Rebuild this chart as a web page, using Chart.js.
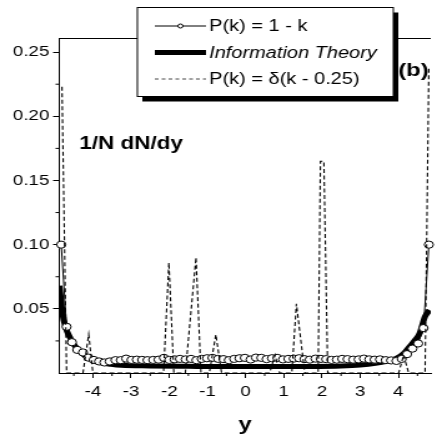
<!DOCTYPE html>
<html>
<head>
<meta charset="utf-8">
<script src="https://cdn.jsdelivr.net/npm/chart.js@4/dist/chart.umd.min.js"></script>
<style>
  html, body { margin: 0; padding: 0; background: #fff; }
  #chart { width: 437px; height: 440px; }
</style>
</head>
<body>
<canvas id="chart" width="350" height="440" style="width:437px;height:440px"></canvas>
<script>
// rapidity grid of the P(k) = 1 - k points
const circleX = [-4.83, -4.69, -4.55, -4.41, -4.26, -4.12, -3.98, -3.84, -3.70, -3.56,
  -3.41, -3.27, -3.13, -2.99, -2.85, -2.71, -2.57, -2.42, -2.28, -2.14,
  -2.00, -1.86, -1.72, -1.57, -1.43, -1.29, -1.15, -1.01, -0.87, -0.72,
  -0.58, -0.44, -0.30, -0.16, -0.02, 0.13, 0.27, 0.41, 0.55, 0.69,
  0.83, 0.98, 1.12, 1.26, 1.40, 1.54, 1.68, 1.83, 1.97, 2.11,
  2.25, 2.39, 2.53, 2.67, 2.82, 2.96, 3.10, 3.24, 3.38, 3.52,
  3.67, 3.81, 3.95, 4.09, 4.23, 4.37, 4.52, 4.66, 4.80];
const circleY = [0.100, 0.036, 0.024, 0.018, 0.016, 0.012, 0.0102, 0.0090, 0.0082, 0.0090,
  0.0100, 0.0100, 0.0112, 0.0102, 0.0104, 0.0102, 0.0100, 0.0102, 0.0104, 0.0118,
  0.0102, 0.0106, 0.0110, 0.0106, 0.0110, 0.0100, 0.0110, 0.0115, 0.0118, 0.0110,
  0.0108, 0.0100, 0.0110, 0.0115, 0.0118, 0.0105, 0.0120, 0.0118, 0.0108, 0.0115,
  0.0118, 0.0106, 0.0110, 0.0112, 0.0115, 0.0108, 0.0104, 0.0112, 0.0110, 0.0108,
  0.0102, 0.0104, 0.0110, 0.0108, 0.0104, 0.0106, 0.0112, 0.0106, 0.0104, 0.0106,
  0.0100, 0.0098, 0.0094, 0.0110, 0.0147, 0.0190, 0.0230, 0.0350, 0.100];

// information theory curve
const infoX = [-4.88, -4.84, -4.80, -4.72, -4.59, -4.46, -4.29, -4.12, -3.86, -3.52,
  -3.26, -2.5, -1.5, -0.5, 0.5, 1.5, 2.5, 3.0, 3.4, 3.7,
  3.96, 4.15, 4.30, 4.45, 4.56, 4.70, 4.82];
const infoY = [0.068, 0.058, 0.047, 0.036, 0.027, 0.0207, 0.0155, 0.0116, 0.0085, 0.0068,
  0.0060, 0.0055, 0.0052, 0.0050, 0.0050, 0.0051, 0.0055, 0.0062, 0.0075, 0.0092,
  0.0116, 0.0155, 0.0207, 0.026, 0.031, 0.044, 0.049];

// delta function P(k) = d(k - 0.25)
const deltaX = [-4.81, -4.69, -4.26, -4.11, -4.00, -2.15, -2.01, -1.88, -1.58, -1.30,
  -1.17, -0.95, -0.78, -0.63, 0.63, 0.77, 0.89, 1.21, 1.33, 1.55,
  1.90, 1.96, 2.05, 2.15, 4.01, 4.14, 4.27, 4.70, 4.80];
const deltaY = [0.223, 0, 0, 0.030, 0, 0, 0.086, 0, 0, 0.090,
  0, 0, 0.030, 0, 0, 0.014, 0, 0, 0.054, 0,
  0, 0.165, 0.165, 0, 0, 0.014, 0, 0, 0.239];

const seriesLabels = ['P(k) = 1 - k', 'Information Theory', 'P(k) = \u03b4(k - 0.25)'];

// axis ticks
const xMinor = [-4.5, -3.5, -2.5, -1.5, -0.5, 0.5, 1.5, 2.5, 3.5, 4.5];
const yMinor = [0.025, 0.075, 0.125, 0.175, 0.225];

const toPoints = (xs, ys) => xs.map((x, i) => ({x: x, y: ys[i]}));
const FONT = '"Liberation Sans", Arial, Helvetica, sans-serif';

const frame = {
  id: 'frame',
  afterDraw(chart) {
    const {ctx, chartArea, scales: {x, y}} = chart;
    ctx.save();
    ctx.strokeStyle = '#000';
    ctx.lineWidth = 1;
    ctx.beginPath();
    xMinor.forEach(v => {
      const px = x.getPixelForValue(v);
      ctx.moveTo(px, chartArea.bottom);
      ctx.lineTo(px, chartArea.bottom + 3);
    });
    yMinor.forEach(v => {
      const py = y.getPixelForValue(v);
      ctx.moveTo(chartArea.left, py);
      ctx.lineTo(chartArea.left - 3, py);
    });
    ctx.moveTo(chartArea.left, chartArea.top + 0.5);
    ctx.lineTo(chartArea.right, chartArea.top + 0.5);
    ctx.stroke();
    ctx.restore();
  }
};

const legendBox = {
  id: 'legendBox',
  afterDraw(chart) {
    const ctx = chart.ctx;
    const ds = chart.data.datasets;
    const bx = 110, by = 7.5, bw = 205, bh = 89;
    ctx.save();
    ctx.fillStyle = '#000';
    ctx.fillRect(bx + 4, by + 5, bw, bh);
    ctx.fillStyle = '#fff';
    ctx.fillRect(bx, by, bw, bh);
    ctx.strokeStyle = '#000';
    ctx.lineWidth = 1;
    ctx.strokeRect(bx, by, bw, bh);

    const rowY = [26, 52.5, 79];
    const x0 = 124, x1 = 165;
    // row 1: thin line with small open circle
    ctx.beginPath();
    ctx.moveTo(x0, rowY[0]);
    ctx.lineTo(x1, rowY[0]);
    ctx.stroke();
    ctx.beginPath();
    ctx.arc((x0 + x1) / 2, rowY[0], 2, 0, Math.PI * 2);
    ctx.fillStyle = '#fff';
    ctx.fill();
    ctx.stroke();
    // row 2: thick line
    ctx.lineWidth = ds[1].borderWidth;
    ctx.beginPath();
    ctx.moveTo(x0, rowY[1]);
    ctx.lineTo(x1, rowY[1]);
    ctx.stroke();
    // row 3: dashed line
    ctx.lineWidth = 1;
    ctx.strokeStyle = '#444';
    ctx.setLineDash([3, 2.5]);
    ctx.beginPath();
    ctx.moveTo(x0, rowY[2]);
    ctx.lineTo(x1, rowY[2]);
    ctx.stroke();
    ctx.setLineDash([]);

    ctx.fillStyle = '#000';
    ctx.textBaseline = 'middle';
    ds.forEach((d, i) => {
      ctx.font = (i === 1 ? 'italic ' : '') + '16px ' + FONT;
      ctx.fillText(d.label, 167.5, rowY[i] + 1);
    });

    // panel annotations
    ctx.textBaseline = 'alphabetic';
    ctx.font = 'bold 18px ' + FONT;
    ctx.fillText('1/N dN/dy', 63.5, 149);
    ctx.font = 'bold 19px ' + FONT;
    ctx.fillText('(b)', 319, 75.5);
    ctx.restore();
  }
};

new Chart(document.getElementById('chart'), {
  type: 'line',
  data: {
    datasets: [
      {
        label: seriesLabels[0],
        data: toPoints(circleX, circleY),
        borderColor: '#000',
        borderWidth: 1,
        pointRadius: 3.6,
        pointBorderWidth: 1,
        pointBorderColor: '#000',
        pointBackgroundColor: '#fff',
        tension: 0,
        clip: 6,
        order: 1
      },
      {
        label: seriesLabels[1],
        data: toPoints(infoX, infoY),
        borderColor: '#000',
        borderWidth: 5,
        pointRadius: 0,
        cubicInterpolationMode: 'monotone',
        order: 2
      },
      {
        label: seriesLabels[2],
        data: toPoints(deltaX, deltaY),
        borderColor: '#000',
        borderWidth: 1.1,
        borderDash: [4, 2.5],
        pointRadius: 0,
        tension: 0,
        order: 0
      }
    ]
  },
  options: {
    responsive: false,
    animation: false,
    layout: {
      padding: {top: 38, left: 0, right: 0, bottom: 0}
    },
    scales: {
      x: {
        type: 'linear',
        min: -4.88,
        max: 4.85,
        afterFit: s => { s.height = 67; },
        border: {display: true, color: '#000', width: 1},
        grid: {
          drawOnChartArea: false,
          drawTicks: true,
          tickLength: 5,
          color: '#000'
        },
        ticks: {
          stepSize: 1,
          includeBounds: false,
          padding: 5,
          color: '#000',
          font: {family: FONT, size: 15},
          callback: v => String(v)
        },
        title: {
          display: true,
          text: 'y',
          color: '#000',
          font: {family: FONT, size: 19, weight: 'bold'},
          padding: {top: 0, bottom: 4}
        }
      },
      y: {
        min: 0,
        max: 0.261,
        afterFit: s => { s.width = 47.5; },
        border: {display: true, color: '#000', width: 1},
        grid: {
          drawOnChartArea: false,
          drawTicks: true,
          tickLength: 5,
          color: '#000',
          tickColor: c => (c.tick && c.tick.value === 0 ? 'rgba(0,0,0,0)' : '#000')
        },
        ticks: {
          stepSize: 0.05,
          includeBounds: false,
          padding: 3,
          color: '#000',
          font: {family: FONT, size: 15},
          callback: v => (v === 0 ? '' : v.toFixed(2))
        }
      }
    },
    plugins: {
      legend: {display: false},
      tooltip: {enabled: false}
    }
  },
  plugins: [frame, legendBox]
});
</script>
</body>
</html>
